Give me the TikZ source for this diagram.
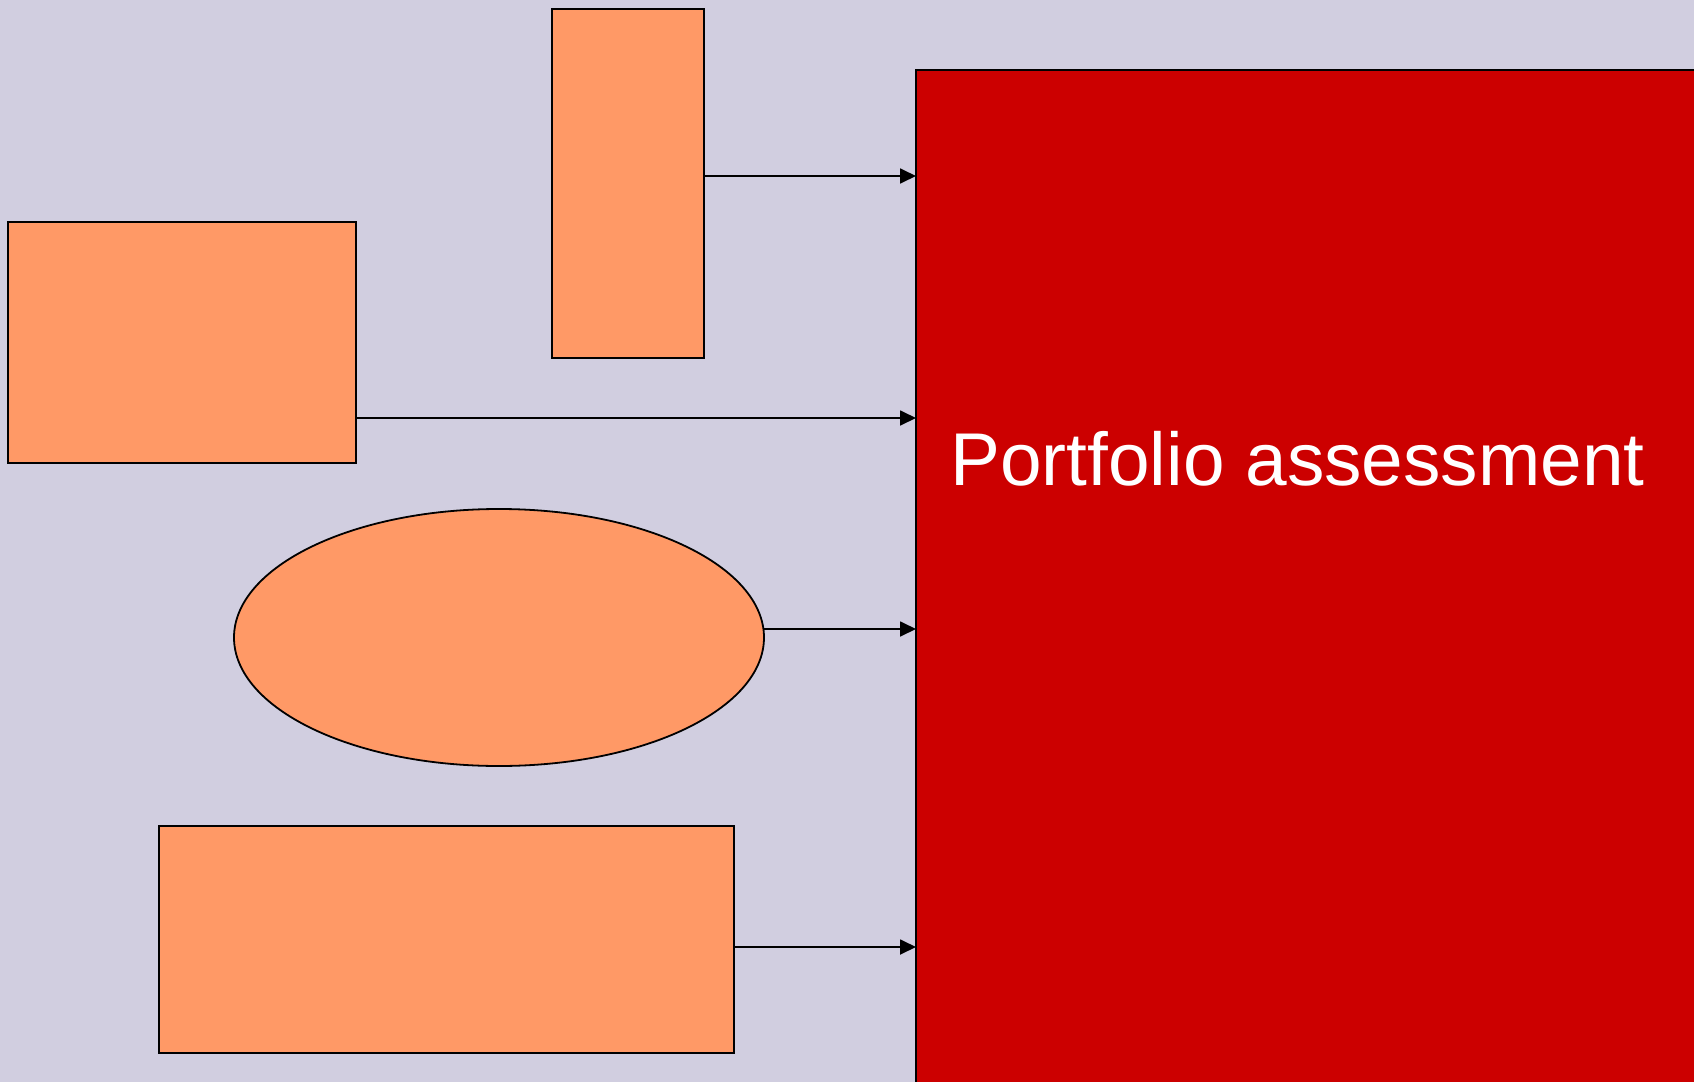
\documentclass[tikz,border=0pt]{standalone}
\usepackage{fontspec}
\setmainfont{Liberation Sans}
\usetikzlibrary{arrows.meta,shapes.geometric}
\definecolor{bgcol}{RGB}{209,206,224}
\definecolor{orangefill}{RGB}{255,153,102}
\definecolor{redfill}{RGB}{204,0,0}
\begin{document}
\begin{tikzpicture}[x=0.5pt,y=-0.5pt,
  box/.style={draw=black,line width=0.9pt,fill=orangefill,rectangle,inner sep=0pt,outer sep=0pt},
  oval/.style={draw=black,line width=0.9pt,fill=orangefill,ellipse,inner sep=0pt,outer sep=0pt},
  bigbox/.style={draw=black,line width=0.9pt,fill=redfill,rectangle,inner sep=0pt,outer sep=0pt},
  conn/.style={draw=black,line width=0.9pt,-{Triangle[length=8pt,width=7.5pt]}},
  titletext/.style={text=white,font=\fontsize{37.4}{44}\selectfont,inner sep=0pt}]
\useasboundingbox (0,0) rectangle (1694,1082);
\fill[bgcol] (0,0) rectangle (1694,1082);
\node[bigbox,anchor=north west,minimum width=400pt,minimum height=520pt] (red) at (916,70) {};
\node[box,minimum width=76pt,minimum height=174.5pt] (top) at (628,183.5) {};
\node[box,minimum width=174pt,minimum height=120.5pt] (left) at (182,342.5) {};
\node[oval,minimum width=265pt,minimum height=128.5pt] (ell) at (499,637.5) {};
\node[box,minimum width=287.5pt,minimum height=113.5pt] (bottom) at (446.5,939.5) {};
\node[titletext,anchor=base west] (title) at (950,485) {Portfolio assessment};
\draw[conn] ([yshift=3.75pt]top.east) -- ([yshift=3.75pt]top.east -| red.west);
\draw[conn] ([yshift=-37.75pt]left.east) -- ([yshift=-37.75pt]left.east -| red.west);
\draw[conn] ([yshift=4.25pt]ell.east) -- ([yshift=4.25pt]ell.east -| red.west);
\draw[conn] ([yshift=-3.75pt]bottom.east) -- ([yshift=-3.75pt]bottom.east -| red.west);
\end{tikzpicture}
\end{document}
